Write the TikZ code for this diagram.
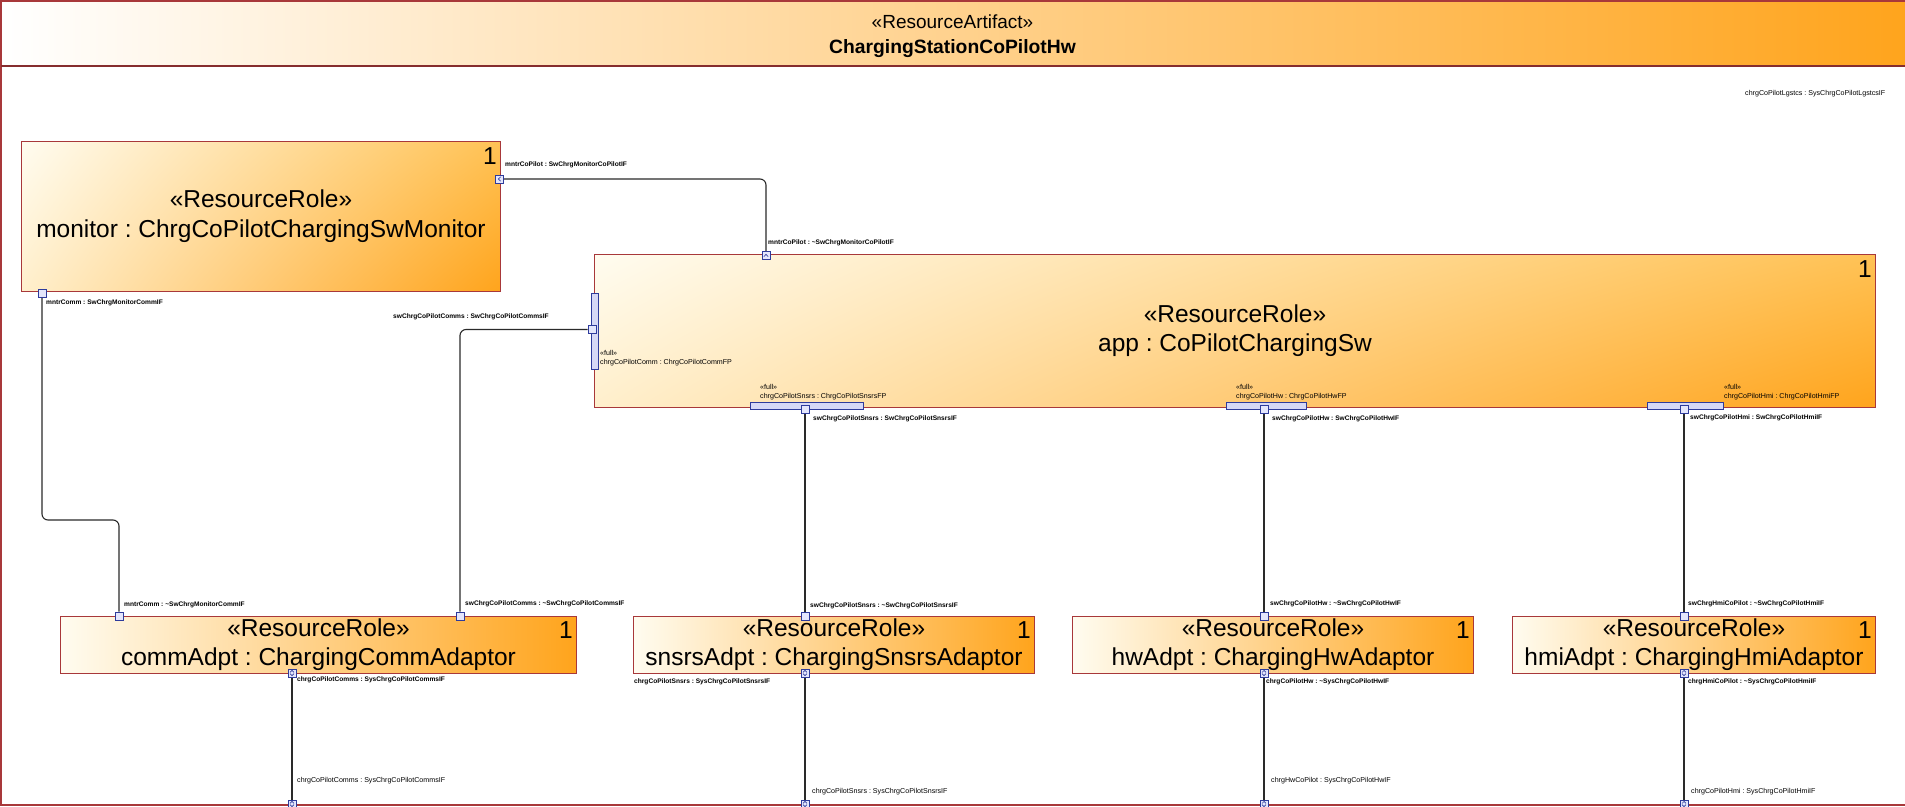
\documentclass[tikz,border=0pt]{standalone}
\usepackage{fontspec}
\setmainfont{Liberation Sans}
\usetikzlibrary{shadings,calc}
\frenchspacing

\definecolor{frameRed}{HTML}{A8383A}
\definecolor{wireGray}{HTML}{2A2A2A}
\definecolor{portBlue}{HTML}{2E3B9C}
\definecolor{portFill}{HTML}{E4E6FC}
\definecolor{barFill}{HTML}{D6D8F6}
\definecolor{creamA}{HTML}{FFFCF0}
\definecolor{creamB}{HTML}{FFEFCC}
\definecolor{orangeA}{HTML}{FFA41C}
\definecolor{orangeB}{HTML}{FFC255}
\definecolor{orangeM}{HTML}{FFE0A8}

\tikzset{
  bigpart/.style={draw=frameRed, line width=1pt, shade,
    shading=bilinear interpolation,
    upper left=creamA, lower left=creamB, upper right=orangeB, lower right=orangeA,
    anchor=north west, inner sep=0pt, align=center,
    font=\fontsize{24.5pt}{30pt}\selectfont},
  smallpart/.style={draw=frameRed, line width=1pt,
    left color=creamA, middle color=orangeM, right color=orangeA,
    anchor=north west, inner sep=0pt, align=center,
    font=\fontsize{24.5pt}{29pt}\selectfont},
  mult/.style={anchor=north east, inner sep=0pt, font=\fontsize{24.5pt}{29pt}\selectfont},
  port/.style={draw=portBlue, fill=portFill, line width=0.9pt, rectangle,
    minimum width=8pt, minimum height=8pt, inner sep=0pt},
  fullbar/.style={draw=portBlue, line width=0.9pt, rectangle, inner sep=0pt,
    fill=barFill},
  wire/.style={draw=wireGray, line width=1.1pt, rounded corners=6pt},
  glyph/.style={draw=portBlue, line width=0.6pt},
  lbl/.style={anchor=west, inner sep=0pt, font=\fontsize{7.1pt}{8pt}\selectfont},
  lblb/.style={anchor=west, inner sep=0pt, font=\fontsize{6.6pt}{8pt}\selectfont\bfseries},
}

\newcommand\udglyph[1]{%
  \draw[glyph] ($(#1)+(-2,-0.6)$) -- ($(#1)+(0,-2.6)$) -- ($(#1)+(2,-0.6)$);
  \draw[glyph] ($(#1)+(-2,0.6)$) -- ($(#1)+(0,2.6)$) -- ($(#1)+(2,0.6)$);}

\begin{document}
\begin{tikzpicture}[x=1pt,y=-1pt]
\useasboundingbox (0,0) rectangle (1905,806);
\clip (0,0) rectangle (1905,806);

% enclosing artifact with its title band
\fill[white] (0,0) rectangle (1905,806);
\shade[left color=white, middle color=orangeM, right color=orangeA] (1,1) rectangle (1912,66);
\draw[frameRed, line width=1.2pt] (1,1) rectangle (1912,805);
\draw[frameRed!80!black, line width=1.2pt] (1,66) -- (1912,66);
\node[inner sep=0pt, font=\fontsize{19pt}{22pt}\selectfont] (artStereo) at (952.5,22) {«ResourceArtifact»};
\node[inner sep=0pt, font=\fontsize{19.3pt}{22pt}\selectfont\bfseries] (artName) at (952.5,49) {ChargingStationCoPilotHw};
\node[lbl] (lgstcsLbl) at (1745,94) {chrgCoPilotLgstcs : SysChrgCoPilotLgstcsIF};

% parts
\node[bigpart, minimum width=479pt, minimum height=150pt] (monitor) at (21,141)
  {«ResourceRole»\\monitor : ChrgCoPilotChargingSwMonitor};
\node[mult] (monitorMult) at ($(monitor.north east)+(-4,6)$) {1};

\node[bigpart, minimum width=1281pt, minimum height=153pt,
  font=\fontsize{24.5pt}{29pt}\selectfont] (app) at (594,254)
  {«ResourceRole»\\app : CoPilotChargingSw};
\node[mult] (appMult) at ($(app.north east)+(-4,6)$) {1};

\node[smallpart, minimum width=516pt, minimum height=57pt] (comm) at (60,616)
  {«ResourceRole»\\commAdpt : ChargingCommAdaptor};
\node[mult] (commMult) at ($(comm.north east)+(-4,5)$) {1};

\node[smallpart, minimum width=401pt, minimum height=57pt] (snsrs) at (633,616)
  {«ResourceRole»\\snsrsAdpt : ChargingSnsrsAdaptor};
\node[mult] (snsrsMult) at ($(snsrs.north east)+(-4,5)$) {1};

\node[smallpart, minimum width=401pt, minimum height=57pt] (hw) at (1072,616)
  {«ResourceRole»\\hwAdpt : ChargingHwAdaptor};
\node[mult] (hwMult) at ($(hw.north east)+(-4,5)$) {1};

\node[smallpart, minimum width=363pt, minimum height=57pt] (hmi) at (1512,616)
  {«ResourceRole»\\hmiAdpt : ChargingHmiAdaptor};
\node[mult] (hmiMult) at ($(hmi.north east)+(-4,5)$) {1};

% full ports of app
\node[fullbar, minimum width=6.5pt, minimum height=76pt] (commBar) at (595,331) {};
\node[fullbar, minimum width=113pt, minimum height=6.5pt] (snsBar) at (806.5,406) {};
\node[fullbar, minimum width=80pt, minimum height=6.5pt] (hwBar) at (1266,406) {};
\node[fullbar, minimum width=76pt, minimum height=6.5pt] (hmiBar) at (1685,406) {};

% ports
\node[port] (monR) at (499.5,179) {};
\node[port] (monB) at (42,293) {};
\node[port] (appT) at (766,255.5) {};
\node[port] (appL) at (592,329.5) {};
\node[port] (snsB) at (805,409.5) {};
\node[port] (hwB) at (1264,409.5) {};
\node[port] (hmiB) at (1684,409.5) {};
\node[port] (commTL) at (119,616) {};
\node[port] (commTR) at (460,616) {};
\node[port] (commB) at (292,673) {};
\node[port] (snsrsT) at (805,616) {};
\node[port] (snsrsB) at (805,673) {};
\node[port] (hwT) at (1264,616) {};
\node[port] (hwBt) at (1264,673) {};
\node[port] (hmiT) at (1684,616) {};
\node[port] (hmiBt) at (1684,673) {};
\node[port] (extA) at (292,804) {};
\node[port] (extB) at (805,804) {};
\node[port] (extC) at (1264,804) {};
\node[port] (extD) at (1684,804) {};
\coordinate (monBend) at (80,520);

% connectors
\draw[wire] (monR) -| (appT);
\draw[wire] (monB) |- (monBend) -| (commTL);
\draw[wire] (appL) -| (commTR);
\draw[wire] (snsB) -- (snsrsT);
\draw[wire] (hwB) -- (hwT);
\draw[wire] (hmiB) -- (hmiT);
\draw[wire] (commB) -- (extA);
\draw[wire] (snsrsB) -- (extB);
\draw[wire] (hwBt) -- (extC);
\draw[wire] (hmiBt) -- (extD);

% redraw ports above the wires
\foreach \p in {monR,monB,appT,appL,snsB,hwB,hmiB,commTL,commTR,commB,snsrsT,snsrsB,hwT,hwBt,hmiT,hmiBt,extA,extB,extC,extD}
  \node[port] at (\p) {};

% port direction glyphs
\draw[glyph] ($(monR)+(1.2,-2.2)$) -- ($(monR)+(-1.2,0)$) -- ($(monR)+(1.2,2.2)$);
\draw[glyph] ($(appT)+(-2.2,1.2)$) -- ($(appT)+(0,-1.2)$) -- ($(appT)+(2.2,1.2)$);
\udglyph{commB}
\udglyph{snsrsB}
\udglyph{hwBt}
\udglyph{hmiBt}
\udglyph{extA}
\udglyph{extB}
\udglyph{extC}
\udglyph{extD}

% port labels
\node[lblb] (lMonR) at (505,165) {mntrCoPilot : SwChrgMonitorCoPilotIF};
\node[lblb] (lMonB) at (46,303) {mntrComm : SwChrgMonitorCommIF};
\node[lblb] (lAppT) at (768,243) {mntrCoPilot : \textasciitilde SwChrgMonitorCoPilotIF};
\node[lblb] (lAppL) at (393,317) {swChrgCoPilotComms : SwChrgCoPilotCommsIF};
\node[lbl] (lCommBarA) at (600,353) {«full»};
\node[lbl] (lCommBarB) at (600,363) {chrgCoPilotComm : ChrgCoPilotCommFP};
\node[lbl] (lSnsBarA) at (760,387) {«full»};
\node[lbl] (lSnsBarB) at (760,397) {chrgCoPilotSnsrs : ChrgCoPilotSnsrsFP};
\node[lblb] (lSnsB) at (813,419) {swChrgCoPilotSnsrs : SwChrgCoPilotSnsrsIF};
\node[lbl] (lHwBarA) at (1236,387) {«full»};
\node[lbl] (lHwBarB) at (1236,397) {chrgCoPilotHw : ChrgCoPilotHwFP};
\node[lblb] (lHwB) at (1272,419) {swChrgCoPilotHw : SwChrgCoPilotHwIF};
\node[lbl] (lHmiBarA) at (1724,387) {«full»};
\node[lbl] (lHmiBarB) at (1724,397) {chrgCoPilotHmi : ChrgCoPilotHmiFP};
\node[lblb] (lHmiB) at (1690,418) {swChrgCoPilotHmi : SwChrgCoPilotHmiIF};

\node[lblb] (lCommTL) at (124,605) {mntrComm : \textasciitilde SwChrgMonitorCommIF};
\node[lblb] (lCommTR) at (465,604) {swChrgCoPilotComms : \textasciitilde SwChrgCoPilotCommsIF};
\node[lblb] (lCommB) at (297,680) {chrgCoPilotComms : SysChrgCoPilotCommsIF};
\node[lbl] (lExtA) at (297,781) {chrgCoPilotComms : SysChrgCoPilotCommsIF};

\node[lblb] (lSnsrsT) at (810,606) {swChrgCoPilotSnsrs : \textasciitilde SwChrgCoPilotSnsrsIF};
\node[lblb] (lSnsrsB) at (634,682) {chrgCoPilotSnsrs : SysChrgCoPilotSnsrsIF};
\node[lbl] (lExtB) at (812,792) {chrgCoPilotSnsrs : SysChrgCoPilotSnsrsIF};

\node[lblb] (lHwT) at (1270,604) {swChrgCoPilotHw : \textasciitilde SwChrgCoPilotHwIF};
\node[lblb] (lHwBt) at (1266,682) {chrgCoPilotHw : \textasciitilde SysChrgCoPilotHwIF};
\node[lbl] (lExtC) at (1271,781) {chrgHwCoPilot : SysChrgCoPilotHwIF};

\node[lblb] (lHmiT) at (1688,604) {swChrgHmiCoPilot : \textasciitilde SwChrgCoPilotHmiIF};
\node[lblb] (lHmiBt) at (1688,682) {chrgHmiCoPilot : \textasciitilde SysChrgCoPilotHmiIF};
\node[lbl] (lExtD) at (1691,792) {chrgCoPilotHmi : SysChrgCoPilotHmiIF};
\end{tikzpicture}
\end{document}
